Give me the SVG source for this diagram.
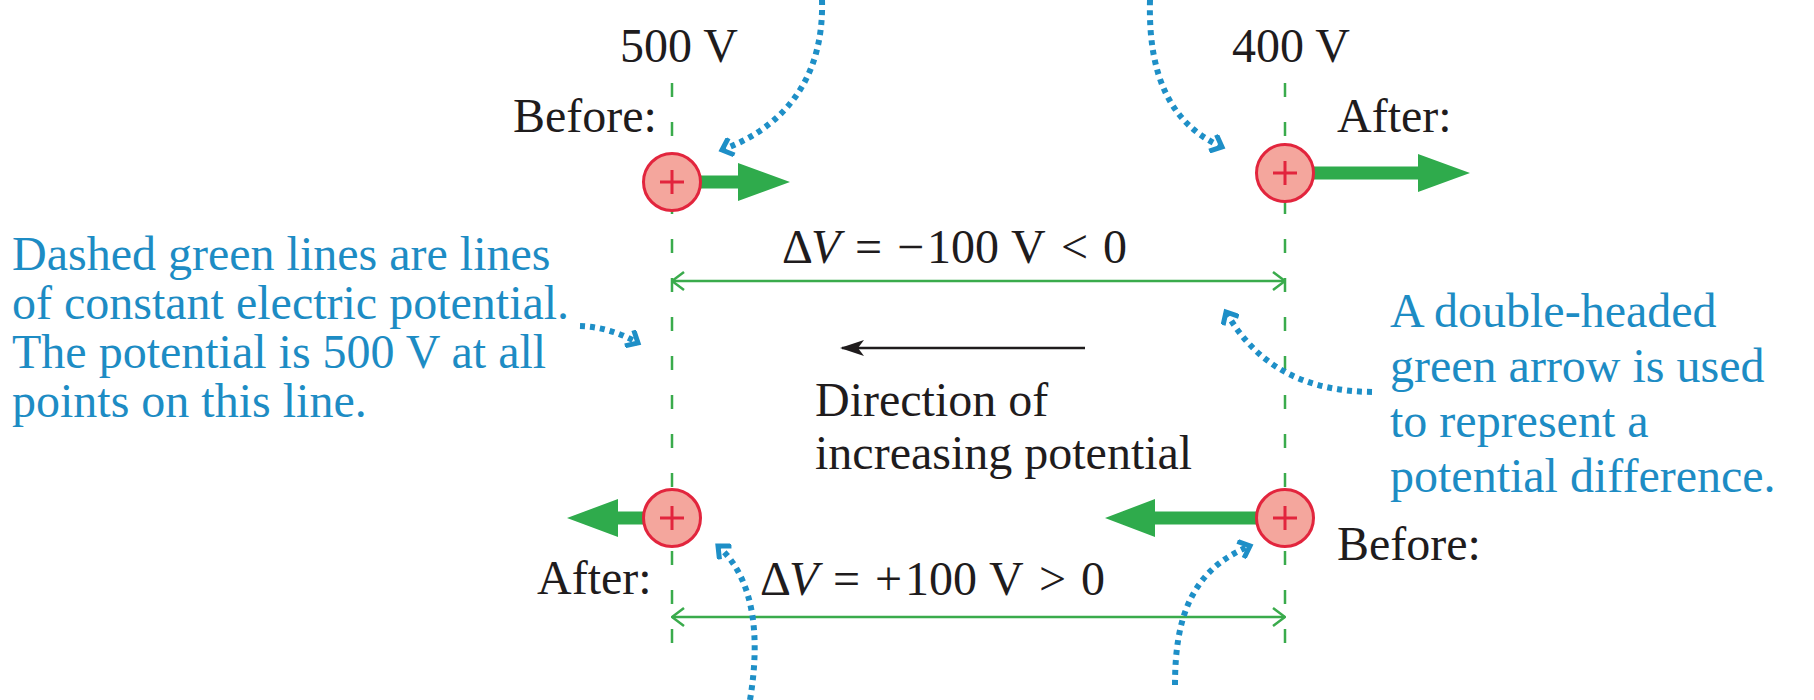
<svg xmlns="http://www.w3.org/2000/svg" width="1814" height="700" viewBox="0 0 1814 700">
<style>
text{font-family:"Liberation Serif","Times New Roman",serif;font-size:48px;fill:#1f1c1d}
.blue{fill:#1d8cc4}
.it{font-style:italic}
.eq{stroke:#3aab4c;stroke-width:2.5;stroke-dasharray:14 25;fill:none}
.dim{stroke:#3aab4c;stroke-width:2.5;fill:none}
.force{fill:#2fab4c;stroke:none}
.chg{fill:#f4a69d;stroke:#e2253d;stroke-width:3}
.plus{stroke:#e2253d;stroke-width:3;fill:none}
.ptr{stroke:#1e8fc7;stroke-width:6;stroke-dasharray:5 5;fill:none}
.blk{stroke:#1f1c1d;stroke-width:2.5;fill:none}
</style>
<defs>
<marker id="dimhead" viewBox="0 0 14 20" refX="13" refY="10" markerWidth="14" markerHeight="20" markerUnits="userSpaceOnUse" orient="auto-start-reverse">
<path d="M1 1 L13 10 L1 19" fill="none" stroke="#3aab4c" stroke-width="2.5"/>
</marker>
<marker id="blkhead" viewBox="0 0 24 16" refX="22" refY="8" markerWidth="24" markerHeight="16" markerUnits="userSpaceOnUse" orient="auto">
<path d="M0 0 L24 8 L0 16 L6 8 Z" fill="#1f1c1d"/>
</marker>
<marker id="ptrhead" viewBox="0 0 16 20" refX="12" refY="10" markerWidth="16" markerHeight="20" markerUnits="userSpaceOnUse" orient="auto">
<path d="M2 1 L12 10 L2 19" fill="none" stroke="#1e8fc7" stroke-width="5"/>
</marker>
</defs>

<g id="equipotentials">
<line class="eq" x1="672" y1="83" x2="672" y2="652"/>
<line class="eq" x1="1285" y1="83" x2="1285" y2="652"/>
</g>

<g id="connectors">
<line class="dim" x1="672" y1="281" x2="1285" y2="281" marker-start="url(#dimhead)" marker-end="url(#dimhead)"/>
<line class="dim" x1="672" y1="617" x2="1285" y2="617" marker-start="url(#dimhead)" marker-end="url(#dimhead)"/>
<line class="blk" x1="1085" y1="348" x2="842" y2="348" marker-end="url(#blkhead)"/>
<path class="ptr" d="M822 0 C824 70 792 124 722 150" marker-end="url(#ptrhead)"/>
<path class="ptr" d="M1150 0 C1148 75 1170 124 1222 147" marker-end="url(#ptrhead)"/>
<path class="ptr" d="M580 326 Q610 327 638 343" marker-end="url(#ptrhead)"/>
<path class="ptr" d="M1372 392 C1312 391 1260 372 1226 312" marker-end="url(#ptrhead)"/>
<path class="ptr" d="M750 700 C760 640 756 580 718 546" marker-end="url(#ptrhead)"/>
<path class="ptr" d="M1175 685 C1175 620 1190 570 1250 546" marker-end="url(#ptrhead)"/>
</g>

<g id="charge-top-left">
<path class="force" d="M700 175.5 H738 V163 L790 182 L738 201 V188.5 H700 Z"/>
<circle class="chg" cx="672" cy="182" r="28.5"/>
<path class="plus" d="M660 182 H684 M672 170 V194"/>
</g>
<g id="charge-top-right">
<path class="force" d="M1312 166.5 H1418 V154 L1470 173 L1418 192 V179.5 H1312 Z"/>
<circle class="chg" cx="1285" cy="173" r="28.5"/>
<path class="plus" d="M1273 173 H1297 M1285 161 V185"/>
</g>
<g id="charge-bottom-left">
<path class="force" d="M645 511.5 H618 V499 L567 518 L618 537 V524.5 H645 Z"/>
<circle class="chg" cx="672" cy="518" r="28.5"/>
<path class="plus" d="M660 518 H684 M672 506 V530"/>
</g>
<g id="charge-bottom-right">
<path class="force" d="M1258 511.5 H1155 V499 L1105 518 L1155 537 V524.5 H1258 Z"/>
<circle class="chg" cx="1285" cy="518" r="28.5"/>
<path class="plus" d="M1273 518 H1297 M1285 506 V530"/>
</g>

<g id="labels">
<text x="620" y="62">500 V</text>
<text x="1232" y="62">400 V</text>
<text x="513" y="132">Before:</text>
<text x="1337" y="132">After:</text>
<text x="537" y="594">After:</text>
<text x="1337" y="560">Before:</text>
<text y="263"><tspan x="782">Δ</tspan><tspan class="it" x="811">V</tspan><tspan x="855">=</tspan><tspan x="897">−</tspan><tspan x="927">100</tspan><tspan x="1011">V</tspan><tspan x="1061">&lt;</tspan><tspan x="1103">0</tspan></text>
<text y="595"><tspan x="760">Δ</tspan><tspan class="it" x="789">V</tspan><tspan x="833">=</tspan><tspan x="875">+</tspan><tspan x="905">100</tspan><tspan x="989">V</tspan><tspan x="1039">&gt;</tspan><tspan x="1081">0</tspan></text>
<text x="815" y="416">Direction of</text>
<text x="815" y="469">increasing potential</text>
</g>

<g id="note-left">
<text class="blue" x="12" y="270">Dashed green lines are lines</text>
<text class="blue" x="12" y="319">of constant electric potential.</text>
<text class="blue" x="12" y="368">The potential is 500 V at all</text>
<text class="blue" x="12" y="417">points on this line.</text>
</g>
<g id="note-right">
<text class="blue" x="1390" y="327">A double-headed</text>
<text class="blue" x="1390" y="382">green arrow is used</text>
<text class="blue" x="1390" y="437">to represent a</text>
<text class="blue" x="1390" y="492">potential difference.</text>
</g>
</svg>
